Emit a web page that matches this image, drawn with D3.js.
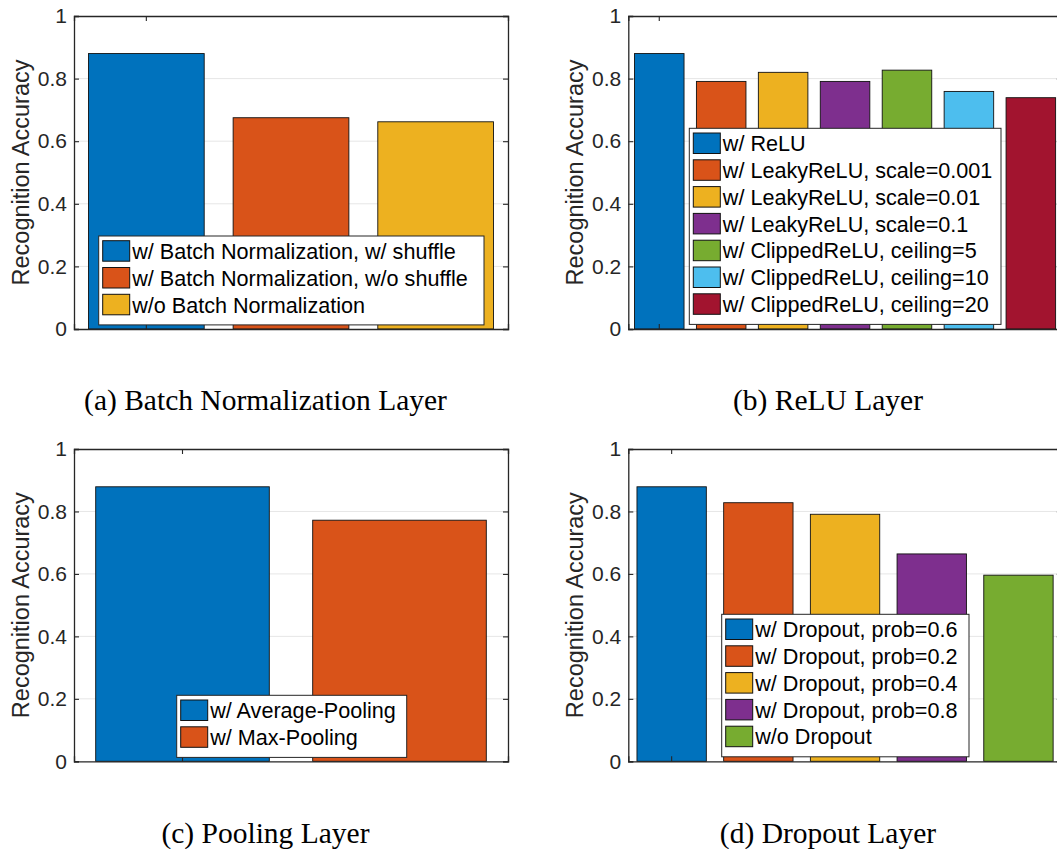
<!DOCTYPE html>
<html>
<head>
<meta charset="utf-8">
<script src="https://cdn.jsdelivr.net/npm/d3@7"></script>
<style>
  body { margin: 0; background: #fff; }
  svg { display: block; }
</style>
</head>
<body>
<svg id="chart" width="1057" height="849"></svg>
<script>
// data
var bnLabels = ["w/ Batch Normalization, w/ shuffle", "w/ Batch Normalization, w/o shuffle", "w/o Batch Normalization"];
var bnValues = [0.88, 0.675, 0.662];

var reluLabels = ["w/ ReLU", "w/ LeakyReLU, scale=0.001", "w/ LeakyReLU, scale=0.01", "w/ LeakyReLU, scale=0.1",
  "w/ ClippedReLU, ceiling=5", "w/ ClippedReLU, ceiling=10", "w/ ClippedReLU, ceiling=20"];
var reluValues = [0.88, 0.791, 0.82, 0.791, 0.827, 0.759, 0.739];

var poolLabels = ["w/ Average-Pooling", "w/ Max-Pooling"];
var poolValues = [0.879, 0.772];

var dropLabels = ["w/ Dropout, prob=0.6", "w/ Dropout, prob=0.2", "w/ Dropout, prob=0.4", "w/ Dropout, prob=0.8", "w/o Dropout"];
var dropValues = [0.879, 0.828, 0.791, 0.664, 0.596];

var yTicks = [0, 0.2, 0.4, 0.6, 0.8, 1];
var yLabel = "Recognition Accuracy";
var captions = ["(a) Batch Normalization Layer", "(b) ReLU Layer", "(c) Pooling Layer", "(d) Dropout Layer"];

// matlab default color order
var colors = ["#0072BD", "#D95319", "#EDB120", "#7E2F8E", "#77AC30", "#4DBEEE", "#A2142F"];

var svg = d3.select("#chart");
svg.append("rect").attr("width", 1057).attr("height", 849).attr("fill", "#fff");

var axisColor = "#262626";
var sans = "'Liberation Sans', Arial, Helvetica, sans-serif";

function drawPanel(p) {
  var g = svg.append("g").attr("transform", "translate(" + p.left + "," + p.top + ")");

  var x = d3.scaleBand()
    .domain(p.labels)
    .range([0, p.width])
    .paddingInner(0.2)
    .paddingOuter(0.1);

  var y = d3.scaleLinear().domain([0, 1]).range([p.height, 0]);

  // grid
  g.selectAll(".grid")
    .data(yTicks.slice(1, -1))
    .enter()
    .append("line")
    .attr("x1", 0).attr("x2", p.width)
    .attr("y1", function(d) { return y(d); })
    .attr("y2", function(d) { return y(d); })
    .attr("stroke", "#e6e6e6")
    .attr("stroke-width", 1);

  // bars
  g.selectAll(".bar")
    .data(p.values)
    .enter()
    .append("rect")
    .attr("x", function(d, i) { return x(p.labels[i]); })
    .attr("y", function(d) { return y(d); })
    .attr("width", x.bandwidth())
    .attr("height", function(d) { return p.height - y(d); })
    .attr("fill", function(d, i) { return colors[i]; })
    .attr("stroke", "#111")
    .attr("stroke-width", 0.9);

  // axes, ticks pointing inward like matlab
  var left = g.append("g")
    .call(d3.axisLeft(y).tickValues(yTicks).tickSize(-5).tickPadding(7)
      .tickFormat(function(d) { return d === 0 || d === 1 ? d : d3.format(".1f")(d); }));
  var right = g.append("g").attr("transform", "translate(" + p.width + ",0)")
    .call(d3.axisRight(y).tickValues(yTicks).tickSize(-5).tickFormat(""));
  var bottom = g.append("g").attr("transform", "translate(0," + p.height + ")")
    .call(d3.axisBottom(x).tickValues([p.labels[0]]).tickSize(-5).tickFormat(""));
  var top = g.append("g")
    .call(d3.axisTop(x).tickValues([p.labels[0]]).tickSize(-5).tickFormat(""));

  [left, right, bottom, top].forEach(function(a) {
    a.select(".domain").attr("stroke", axisColor).attr("stroke-width", 1.3);
    a.selectAll(".tick line").attr("stroke", axisColor).attr("stroke-width", 1.1);
  });
  left.selectAll(".tick text")
    .attr("fill", axisColor)
    .style("font-family", sans)
    .style("font-size", "21px");

  g.append("text")
    .attr("transform", "translate(-45," + (p.height / 2) + ") rotate(-90)")
    .attr("text-anchor", "middle")
    .attr("fill", axisColor)
    .style("font-family", sans)
    .style("font-size", "23.5px")
    .text(yLabel);

  // legend
  var lg = svg.append("g").attr("transform", "translate(" + p.legX + "," + p.legY + ")");
  var rowH = 26.8;
  lg.append("rect")
    .attr("width", p.legW)
    .attr("height", p.labels.length * rowH + 8.5)
    .attr("fill", "#fff")
    .attr("stroke", axisColor)
    .attr("stroke-width", 1);

  var row = lg.selectAll(".row")
    .data(p.labels)
    .enter()
    .append("g")
    .attr("transform", function(d, i) { return "translate(4," + (4.7 + i * rowH) + ")"; });

  row.append("rect")
    .attr("width", 27)
    .attr("height", 20.5)
    .attr("fill", function(d, i) { return colors[i]; })
    .attr("stroke", "#111")
    .attr("stroke-width", 1);

  row.append("text")
    .attr("x", 29.5)
    .attr("y", 10.5)
    .attr("dy", "0.36em")
    .attr("fill", "#000")
    .style("font-family", sans)
    .style("font-size", "21.6px")
    .text(function(d) { return d; });

  // caption under the subfigure
  svg.append("text")
    .attr("x", p.capX)
    .attr("y", p.capY)
    .attr("text-anchor", "middle")
    .attr("fill", "#000")
    .style("font-family", "'Liberation Serif', 'Times New Roman', serif")
    .style("font-size", "29.5px")
    .text(p.caption);
}

drawPanel({ labels: bnLabels, values: bnValues, caption: captions[0],
  left: 74, top: 16, width: 434, height: 313,
  legX: 98.7, legY: 236, legW: 385.3, capX: 265.5, capY: 410 });

drawPanel({ labels: reluLabels, values: reluValues, caption: captions[1],
  left: 628.3, top: 16, width: 433.5, height: 313,
  legX: 689.3, legY: 128.3, legW: 311.7, capX: 828, capY: 410 });

drawPanel({ labels: poolLabels, values: poolValues, caption: captions[2],
  left: 74, top: 449, width: 434, height: 312.3,
  legX: 176.7, legY: 695.3, legW: 230, capX: 265.5, capY: 843 });

drawPanel({ labels: dropLabels, values: dropValues, caption: captions[3],
  left: 628.3, top: 449, width: 433.5, height: 312.3,
  legX: 721.7, legY: 614.3, legW: 247.3, capX: 828, capY: 843 });
</script>
</body>
</html>
